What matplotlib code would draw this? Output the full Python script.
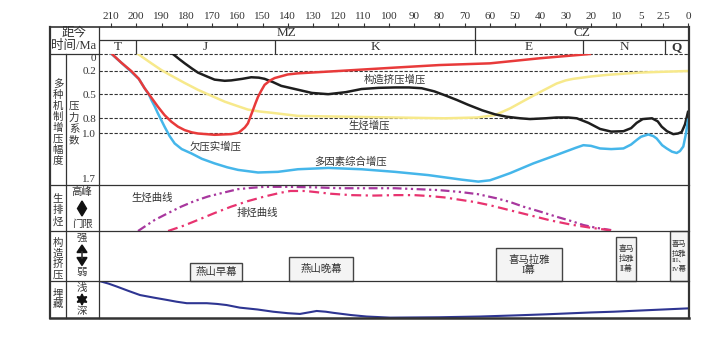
import numpy as np
import matplotlib
matplotlib.use("Agg")
import matplotlib.pyplot as plt
from matplotlib.lines import Line2D
from matplotlib.patches import Polygon

plt.rcParams['font.family'] = ['Liberation Serif', 'Noto Sans CJK SC']

# ---------------- data ----------------
tick_ages = [210, 200, 190, 180, 170, 160, 150, 140, 130, 120, 110, 100, 90, 80,
             70, 60, 50, 40, 30, 20, 10, 5, 2.5, 0]
tick_labels = ['210', '200', '190', '180', '170', '160', '150', '140', '130', '120',
               '110', '100', '90', '80', '70', '60', '50', '40', '30', '20', '10',
               '5', '2.5', '0']

era_names = ['MZ', 'CZ']
era_bounds = [66]
period_names = ['T', 'J', 'K', 'E', 'N', 'Q']
period_bounds = [200, 145, 66, 23, 2.3]

pressure_ticks = [0, 0.2, 0.5, 0.8, 1.0, 1.7]
pressure_labels = ['0', '0.2', '0.5', '0.8', '1.0', '1.7']

# 欠压实增压 (red)
red_age = [209.6, 206, 202, 199, 196.7, 194, 191.4, 188.8, 186.1, 183.5, 180.8, 178,
           175.6, 169, 162.4, 159.5, 158.4, 157, 155.8, 154.8, 153.8, 152.8, 151.8,
           150.5, 149.2, 147, 145.2, 140, 136, 120, 97.6, 80, 60, 40.2, 20.4]
red_val = [0, 0.1, 0.2, 0.3, 0.42, 0.54, 0.655, 0.76, 0.845, 0.91, 0.956, 0.985,
           1.0, 1.02, 1.01, 0.99, 0.96, 0.92, 0.867, 0.78, 0.696, 0.61, 0.53,
           0.45, 0.377, 0.32, 0.29, 0.244, 0.23, 0.2, 0.16, 0.13, 0.11, 0.05, 0.0]

# 多因素综合增压 (blue)
blue_age = [209.8, 206, 202, 199, 196.7, 195, 194, 192.7, 191.4, 190, 188.8, 186.8,
            184.8, 182, 178.2, 174, 169, 164, 159.7, 151.8, 143.9, 136, 124, 110.8,
            97.6, 84.4, 71.2, 64.6, 60, 57, 52, 42.8, 33.6, 26, 23, 20, 16.4, 12,
            8.54, 7, 5.87, 5, 4.17, 3.6, 3.22, 2.6, 2.13, 1.6, 1.13, 0.8, 0.47, 0.2, 0]
blue_val = [0, 0.1, 0.21, 0.3, 0.42, 0.5, 0.57, 0.65, 0.74, 0.83, 0.91, 1.04,
            1.153, 1.24, 1.306, 1.39, 1.46, 1.52, 1.56, 1.60, 1.59, 1.55, 1.53, 1.55,
            1.59, 1.64, 1.71, 1.74, 1.72, 1.68, 1.61, 1.46, 1.33, 1.22, 1.18, 1.19,
            1.23, 1.24, 1.23, 1.17, 1.10, 1.05, 1.015, 1.04, 1.077, 1.18, 1.23, 1.28,
            1.30, 1.27, 1.20, 1.0, 0.82]

# 构造挤压增压 (black)
black_age = [185.5, 183, 180.8, 178, 175.6, 172, 169, 165, 162.4, 158, 154.5, 151.5,
             149.2, 146, 142.6, 137.2, 130.5, 124, 117, 110.8, 104, 97.6, 92, 87, 82,
             77.8, 73, 68.6, 63, 58, 53.4, 48, 44.1, 38, 33.6, 29, 25.6, 21, 16.4, 12,
             8.54, 7, 5.87, 4.8, 3.75, 3.1, 2.65, 2.1, 1.47, 1.0, 0.63, 0.3, 0]
black_val = [0, 0.06, 0.11, 0.17, 0.22, 0.27, 0.31, 0.325, 0.32, 0.30, 0.28, 0.285,
             0.30, 0.34, 0.39, 0.43, 0.48, 0.496, 0.47, 0.43, 0.415, 0.41, 0.41, 0.42,
             0.46, 0.51, 0.57, 0.63, 0.70, 0.75, 0.78, 0.80, 0.81, 0.80, 0.79, 0.79,
             0.80, 0.86, 0.94, 0.975, 0.97, 0.93, 0.86, 0.81, 0.80, 0.84, 0.91, 0.97,
             1.01, 1.0, 0.98, 0.88, 0.72]

# 生烃增压 (yellow)
yellow_age = [199.3, 194, 190, 186.1, 181, 175.6, 170, 165, 160, 155.8, 151, 146.5,
              136, 117.4, 97.6, 77.8, 65, 58, 52, 46, 40.2, 36, 33.6, 30, 27, 20,
              13.8, 5.2, 2.5, 0]
yellow_val = [0, 0.11, 0.19, 0.26, 0.35, 0.44, 0.52, 0.59, 0.645, 0.69, 0.715, 0.73,
              0.77, 0.78, 0.79, 0.80, 0.79, 0.76, 0.675, 0.57, 0.47, 0.40, 0.36, 0.32,
              0.30, 0.27, 0.25, 0.22, 0.21, 0.2]

# 生烃曲线 (purple) / 排烃曲线 (pink): 0 = 门限, 1 = 高峰
gen_age = [199.3, 196, 192.7, 187, 182.2, 177, 171.6, 165, 159.7, 154, 149.2, 140,
           130, 119.3, 108, 97.6, 89, 80.5, 72, 64.7, 57.3, 52, 46.8, 40, 33.6, 28,
           23, 18, 12]
gen_val = [0, 0.12, 0.24, 0.40, 0.53, 0.65, 0.75, 0.84, 0.91, 0.94, 0.96, 0.96,
           0.95, 0.93, 0.93, 0.93, 0.91, 0.89, 0.85, 0.80, 0.71, 0.63, 0.53, 0.42,
           0.31, 0.22, 0.13, 0.07, 0.02]
exp_age = [187.4, 181, 175.6, 169, 162.4, 155.8, 149.2, 143, 139, 133, 128, 123,
           115, 106, 97, 90, 84, 78, 72, 66, 60, 52, 44, 36, 28, 20, 13, 10.4]
exp_val = [0, 0.12, 0.24, 0.39, 0.53, 0.65, 0.75, 0.83, 0.87, 0.87, 0.84, 0.81,
           0.78, 0.77, 0.78, 0.78, 0.76, 0.73, 0.68, 0.63, 0.56, 0.45, 0.34, 0.23,
           0.14, 0.07, 0.02, 0.0]

# 构造挤压 events
tect_names = ['燕山早幕', '燕山晚幕', '喜马拉雅\nI幕', '喜马\n拉雅\nII幕', '喜马\n拉雅\nIII、\nIV幕']
tect_start = [178.7, 139.5, 57.6, 10.0, 1.8]
tect_end = [158.1, 114.2, 31.5, 6.0, 0.0]
tect_strength = [0.36, 0.48, 0.66, 0.88, 1.0]
tect_fontsize = [7.5, 7.5, 7.5, 5.6, 5.2]

# 埋藏 (0 = 浅, 1 = 深)
burial_age = [214.6, 211, 207.7, 203, 198.5, 193, 188, 184, 180, 172.1, 168, 164.2,
              159, 152, 145.8, 140, 135.2, 131, 128.6, 125, 122, 115, 108.8, 99.5,
              80, 64, 50, 37.6, 20, 11, 0]
burial_val = [0, 0.07, 0.15, 0.27, 0.38, 0.45, 0.51, 0.56, 0.6, 0.6, 0.62, 0.65,
              0.72, 0.77, 0.83, 0.87, 0.89, 0.84, 0.81, 0.83, 0.86, 0.92, 0.96, 0.99,
              0.98, 0.96, 0.93, 0.9, 0.85, 0.83, 0.74]

# ---------------- layout ----------------
W, H = 720, 339
fig = plt.figure(figsize=(W / 100, H / 100), dpi=100)

# x scale: tick positions (pixels) of the schematic, non-linear time axis
tick_px = [111 + i * 25.26 for i in range(21)] + [641, 663, 688]
_a_asc = np.array(tick_ages[::-1], float)
_p_asc = 700.0 - np.array(tick_px[::-1], float)


def age_fwd(a):
    a = np.asarray(a, float)
    out = np.interp(a, _a_asc, _p_asc)
    out = np.where(a > 210, _p_asc[-1] + (a - 210) * 2.526, out)
    out = np.where(a < 0, _p_asc[0] + a * 10.0, out)
    return out


def age_inv(p):
    p = np.asarray(p, float)
    out = np.interp(p, _p_asc, _a_asc)
    out = np.where(p > _p_asc[-1], 210 + (p - _p_asc[-1]) / 2.526, out)
    out = np.where(p < _p_asc[0], (p - _p_asc[0]) / 10.0, out)
    return out


# y scale of pressure panel (schematic)
_c_lv = np.array([0, 0.2, 0.5, 0.8, 1.0, 1.7])
_c_px = np.array([0, 17, 40.5, 64.3, 79.5, 125.0])


def c_fwd(c):
    c = np.asarray(c, float)
    out = np.interp(c, _c_lv, _c_px)
    out = np.where(c > 1.7, 125 + (c - 1.7) * 65.3, out)
    out = np.where(c < 0, c * 85, out)
    return out


def c_inv(p):
    p = np.asarray(p, float)
    out = np.interp(p, _c_px, _c_lv)
    out = np.where(p > 125, 1.7 + (p - 125) / 65.3, out)
    out = np.where(p < 0, p / 85, out)
    return out


XL, XR = 99, 689
AGE_L, AGE_R = 214.75, -0.1
TXT = '#333333'
LINE = '#333333'


def add_ax(y0, y1):
    ax = fig.add_axes([XL / W, 1 - y1 / H, (XR - XL) / W, (y1 - y0) / H])
    ax.set_xscale('function', functions=(age_fwd, age_inv))
    ax.set_xlim(AGE_L, AGE_R)
    for s in ax.spines.values():
        s.set_visible(False)
    ax.patch.set_alpha(0)
    ax.tick_params(left=False, bottom=False, labelleft=False, labelbottom=False)
    return ax


def ftext(x, y, s, **kw):
    kw.setdefault('ha', 'center')
    kw.setdefault('va', 'center')
    kw.setdefault('color', TXT)
    fig.text(x / W, 1 - y / H, s, **kw)


def vtext(x, ys, s, fs=7.5):
    for ch, y in zip(s, ys):
        ftext(x, y, ch, fontsize=fs)


def hline(y, x0, x1, lw=0.9, ls='-'):
    fig.add_artist(Line2D([x0 / W, x1 / W], [1 - y / H, 1 - y / H],
                          transform=fig.transFigure, lw=lw, ls=ls, color=LINE))


def vline(x, y0, y1, lw=0.9):
    fig.add_artist(Line2D([x / W, x / W], [1 - y0 / H, 1 - y1 / H],
                          transform=fig.transFigure, lw=lw, color=LINE))


def fpoly(pts, **kw):
    fig.add_artist(Polygon([(x / W, 1 - y / H) for x, y in pts], closed=True,
                           transform=fig.transFigure, **kw))


# ---- header axis ----
ax_top = add_ax(27, 54)
ax_top.set_ylim(0, 1)
ax_top.xaxis.tick_top()
ax_top.set_xticks(tick_ages, labels=tick_labels)
ax_top.tick_params(axis='x', top=True, labeltop=True, direction='out', length=3,
                   width=0.8, pad=1.5, labelsize=8, labelcolor=TXT, color=LINE)
ROW = (54 - 39.5) / 27
ax_top.axhline(ROW, color=LINE, lw=0.9)
ax_top.vlines(period_bounds, 0, ROW, color=LINE, lw=0.9)
ax_top.vlines(era_bounds, ROW, 1, color=LINE, lw=0.9)


def mid_age(a, b):
    return float(age_inv((age_fwd(a) + age_fwd(b)) / 2))


eb = [AGE_L] + era_bounds + [AGE_R]
for i, nm in enumerate(era_names):
    ax_top.text(mid_age(eb[i], eb[i + 1]), (1 + ROW) / 2, nm, ha='center',
                va='center', fontsize=9.5, color=TXT)
pb = [AGE_L] + period_bounds + [AGE_R]
for i, nm in enumerate(period_names):
    ax_top.text(mid_age(pb[i], pb[i + 1]), ROW / 2, nm, ha='center', va='center',
                fontsize=9.5, color=TXT, fontweight='bold' if nm == 'Q' else 'normal')

# ---- pressure panel ----
ax_p = add_ax(54, 185)
ax_p.set_yscale('function', functions=(c_fwd, c_inv))
ax_p.set_ylim(1.792, 0)
ax_p.set_yticks(pressure_ticks, labels=pressure_labels)
ax_p.tick_params(axis='y', left=False, labelleft=True, length=0, pad=2,
                 labelsize=8, labelcolor=TXT)
ax_p.yaxis.set_minor_locator(matplotlib.ticker.NullLocator())
ax_p.yaxis.get_majorticklabels()[0].set_verticalalignment('top')
for v in pressure_ticks[:5]:
    ax_p.axhline(v, color=LINE, lw=0.8, ls=(0, (3, 1.5)), clip_on=False, zorder=1)

ax_p.plot(yellow_age, yellow_val, color='#f7e98b', lw=1.8, zorder=3)
ax_p.plot(black_age, black_val, color='#1e1e1e', lw=1.8, zorder=4)
ax_p.plot(blue_age, blue_val, color='#45b6ea', lw=1.8, zorder=4)
ax_p.plot(red_age, red_val, color='#e83a3a', lw=1.8, zorder=5)

ftext(395, 80, '构造挤压增压', fontsize=7.5)
ftext(369, 125, '生烃增压', fontsize=7.5)
ftext(215, 147, '欠压实增压', fontsize=7.5)
ftext(351, 162, '多因素综合增压', fontsize=7.5)

# ---- hydrocarbon panel ----
ax_h = add_ax(185, 231)
ax_h.set_ylim(0, 1)
ax_h.plot(gen_age, gen_val, color='#a8379e', lw=1.6,
          ls=(0, (4, 1.6, 1, 1.6, 1, 1.6)), zorder=3)
ax_h.plot(exp_age, exp_val, color='#e8336f', lw=1.6,
          ls=(0, (4.5, 2, 1, 2)), zorder=3)
ftext(152, 198, '生烃曲线', fontsize=7.5)
ftext(257, 213, '排烃曲线', fontsize=7.5)

# ---- tectonic panel ----
ax_t = add_ax(231, 281)
ax_t.set_ylim(0, 1)
for nm, s, e, h, fs in zip(tect_names, tect_start, tect_end, tect_strength, tect_fontsize):
    ax_t.bar(s, h, width=e - s, bottom=0, align='edge', color='#f4f4f4',
             edgecolor='#444444', lw=1.0, zorder=2, clip_on=False)
    ax_t.text(mid_age(s, e), h / 2, nm, ha='center', va='center', fontsize=fs,
              color=TXT, linespacing=1.0 if fs > 6 else 1.3, zorder=3)

# ---- burial panel ----
ax_b = add_ax(281, 318)
ax_b.set_ylim(1, 0)
ax_b.plot(burial_age, burial_val, color='#2e3592', lw=1.5, zorder=3)

# ---- table frame ----
hline(27, 50, 689, lw=1.2)
hline(54, 50, 99)
hline(185, 50, 689)
hline(231, 50, 689)
hline(281, 50, 689)
hline(318, 50, 689, lw=1.8)
vline(50, 27, 318, lw=1.6)
vline(66, 54, 318)
vline(99, 27, 318)
vline(689, 27, 318, lw=1.6)

# ---- left labels ----
ftext(74, 33, '距今', fontsize=9)
ftext(74, 46.5, '时间/Ma', fontsize=9)
vtext(58, [84 + 11 * i for i in range(8)], '多种机制增压幅度')
vtext(74, [106, 117.7, 129.4, 141.1], '压力系数')
vtext(58, [198, 210, 221.5], '生排烃')
ftext(82, 192, '高峰', fontsize=7.5)
ftext(82, 224, '门限', fontsize=7.5)
fpoly([(82, 201), (86.5, 208.5), (82, 216), (77.5, 208.5)], color='#111111')
vtext(58, [243, 253.7, 264.4, 275], '构造挤压')
ftext(82, 238, '强', fontsize=7.5)
fpoly([(82, 245), (87, 252.5), (77, 252.5)], color='#111111')
fpoly([(77, 257.5), (87, 257.5), (82, 265.5)], color='#111111')
vline(82, 252, 258, lw=1.2)
ftext(82, 272, '弱', fontsize=7.5)
vtext(58, [293, 304], '埋藏')
ftext(82, 288, '浅', fontsize=7.5)
ftext(82, 311, '深', fontsize=7.5)
ang = np.linspace(np.pi / 2, np.pi / 2 + 2 * np.pi, 13)[:-1]
rad = np.where(np.arange(12) % 2 == 0, 5.5, 2.8)
fpoly(list(zip(82 + rad * np.cos(ang), 299.5 - rad * np.sin(ang))), color='#111111')

fig.savefig('out.png', dpi=100)
